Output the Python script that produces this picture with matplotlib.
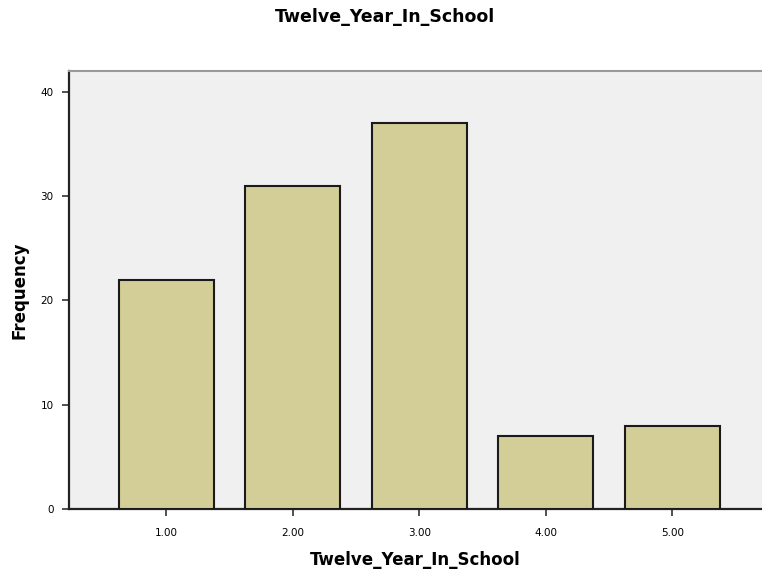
import matplotlib
matplotlib.use("Agg")
import matplotlib.pyplot as plt

categories = [1.0, 2.0, 3.0, 4.0, 5.0]
tick_labels = ["1.00", "2.00", "3.00", "4.00", "5.00"]
frequencies = [22, 31, 37, 7, 8]
y_ticks = [0, 10, 20, 30, 40]

fig = plt.figure(figsize=(7.62, 5.73), dpi=100)
ax = fig.add_axes([69/762, 64/573, 1 - 69/762, (509-71)/573])
ax.set_facecolor("#f0f0f0")
ax.bar(categories, frequencies, width=0.75, color="#d3ce97", edgecolor="#1a1a1a", linewidth=1.5, zorder=3)
ax.set_xlim(0.23, 5.71)
ax.set_ylim(0, 42.0)
ax.set_xticks(categories)
ax.set_xticklabels(tick_labels, fontsize=7.5)
ax.set_yticks(y_ticks)
ax.set_yticklabels([str(v) for v in y_ticks], fontsize=7.5)
ax.tick_params(axis="x", direction="out", length=5, width=1.2, color="#333333", pad=9)
ax.tick_params(axis="y", direction="out", length=5, width=1.2, color="#333333", pad=6)
for s in ["left", "bottom"]:
    ax.spines[s].set_color("#222222")
    ax.spines[s].set_linewidth(1.6)
ax.spines["top"].set_color("#999999")
ax.spines["top"].set_linewidth(1.5)
ax.spines["right"].set_visible(False)
ax.set_xlabel("Twelve_Year_In_School", fontsize=12, fontweight="bold", labelpad=9)
ax.set_ylabel("Frequency", fontsize=12, fontweight="bold", labelpad=9)
fig.text(385/762, 1 - 17/573, "Twelve_Year_In_School", ha="center", va="center",
         fontsize=12.5, fontweight="bold")
fig.savefig("out.png", dpi=100)
